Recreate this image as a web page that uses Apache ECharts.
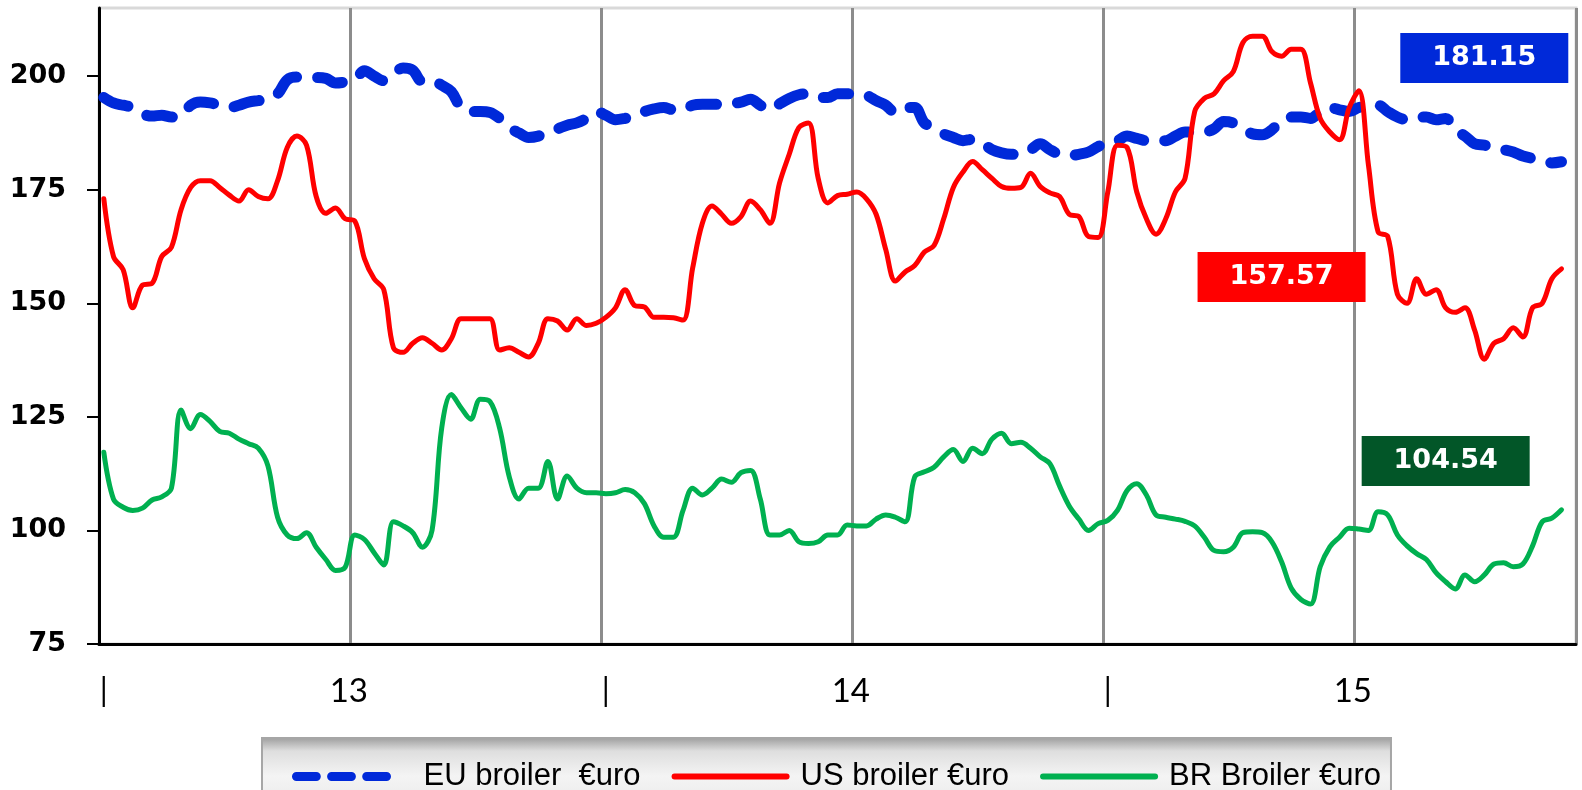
<!DOCTYPE html>
<html>
<head>
<meta charset="utf-8">
<script src="https://cdn.jsdelivr.net/npm/echarts@6/dist/echarts.min.js"></script>
<style>
  html, body { margin: 0; padding: 0; background: #fff; }
  #chart { width: 1582px; height: 790px; }
</style>
</head>
<body>
<div id="chart"></div>
<script>
// weekly broiler prices, €uro / 100 kg
const tickLabels = ['|', '13', '|', '14', '|', '15'];
const weeks = Array.from({ length: 153 }, (_, i) => 'w' + i); // last slot stays empty

const euBroiler = [
  195.3, 194.1, 193.6, 193.1, 191.7, 191.2, 191.4, 191, 191.2, 193.6,
  194.3, 194.1, 193.6, 193.1, 193.6, 194.3, 194.6, 194.9, 196.1, 199.2,
  199.8, 199.7, 199.7, 199.5, 198.5, 198.7, 199.2, 201.2, 200, 199,
  200.5, 201.8, 201.3, 198.8, 199, 198, 196.6, 193.1, 192.2, 192.2,
  192, 190.7, 188.7, 187.5, 186.5, 186.8, 187.7, 188.4, 189.2, 189.7,
  190.7, 192.2, 191.4, 190.4, 190.7, 191.2, 192.2, 192.8, 193.1, 192.6,
  192.6, 193.6, 193.8, 193.8, 193.8, 193.9, 194.3, 194.9, 193.6, 192.6,
  193.9, 195.1, 195.9, 196.1, 195.3, 195.3, 196.1, 196.1, 196.1, 195.8,
  194.6, 193.6, 192, 193.1, 193.1, 189.7, 188.7, 187.3, 186.5, 185.8,
  186.1, 185.3, 183.8, 183.1, 182.8, 182.8, 183.8, 185.1, 183.8, 182.8,
  182.5, 182.8, 183.3, 184.5, 185.5, 185.8, 186.8, 186.3, 185.8, 185.8,
  185.8, 186.8, 187.7, 187.7, 187.7, 188.4, 190, 189.7, 188.4, 187.3,
  187.1, 188.2, 190.4, 191, 191, 190.7, 192.2, 193.1, 192.6, 192.2,
  193.1, 193.3, 193.6, 192.2, 191, 190.4, 191, 191, 190.4, 190.7,
  188.2, 186.8, 185.1, 184.8, 184.3, 183.8, 183.3, 182.4, 181.9, 181.6,
  180.9, 181.15
];

const usBroiler = [
  173, 160.3, 157.4, 149, 154, 154.4, 160.3, 162.3, 170.6, 175.5,
  177, 177, 175.5, 173.8, 172.5, 175, 173.5, 173, 177, 184.3,
  186.8, 184.8, 173.5, 169.8, 171, 168.6, 168.1, 159.8, 155.4, 153,
  140.2, 139.2, 141.2, 142.4, 141.2, 139.7, 142.2, 146.6, 146.6, 146.6,
  146.6, 139.7, 140.2, 139.2, 138.2, 141.2, 146.6, 146.1, 144.1, 146.6,
  145.1, 145.6, 146.9, 149, 153, 149.5, 149.2, 146.9, 146.9, 146.8,
  146.3, 157.8, 167.6, 171.4, 169.6, 167.6, 169.1, 172.5, 170.6, 167.6,
  176.5, 182.8, 188.7, 189.7, 177.5, 172.1, 173.7, 174, 174.5, 173,
  169.6, 161.8, 154.9, 156.9, 158.3, 161.3, 162.7, 168.6, 175.5, 178.9,
  181.2, 179.4, 177.5, 175.7, 175.3, 175.5, 178.6, 175.7, 174.3, 173.5,
  169.6, 169.1, 164.7, 164.5, 174.5, 184.8, 184.3, 174.5, 168.6, 165.2,
  168.6, 174.5, 177.5, 192.2, 195.1, 196.1, 199, 201, 207.4, 208.8,
  208.8, 205.4, 204.4, 205.9, 205.9, 198.5, 190.7, 187.7, 186, 193,
  196.8, 180.4, 165.7, 164.7, 152, 150, 155.4, 152, 153, 149,
  148, 149, 144.1, 137.7, 141.2, 142.2, 144.6, 142.6, 149, 150,
  155.4, 157.57
];

const brBroiler = [
  117.2, 106.9, 105.1, 104.4, 104.9, 106.7, 107.4, 109.3, 126.5, 122.4,
  125.5, 124, 121.8, 121.4, 120.1, 119.1, 118.1, 114.2, 102.9, 99,
  98.2, 99.5, 96.3, 93.6, 91.2, 91.9, 99, 98, 95.1, 92.4,
  101.9, 101, 99.5, 96.3, 100, 122.5, 129.9, 127, 124.5, 128.9,
  128.4, 122.5, 111.8, 106.9, 109.3, 109.3, 115.2, 106.9, 112, 109.3,
  108.3, 108.3, 108.1, 108.3, 109, 108.3, 105.9, 101, 98.5, 98.5,
  104.4, 109.3, 107.8, 109.3, 111.3, 110.6, 112.7, 113.2, 106.9, 99,
  99, 100, 97.5, 97.1, 97.5, 99, 99, 101.2, 101, 101,
  102.5, 103.4, 102.9, 101.9, 111.8, 112.9, 113.9, 116.2, 117.8, 115.2,
  118.1, 116.9, 120.1, 121.4, 119.1, 119.4, 118.1, 116.2, 114.7, 109.8,
  105.4, 102.5, 100, 101.5, 102.2, 104.4, 108.8, 110.3, 107.8, 103.4,
  102.9, 102.5, 102, 101, 98.5, 95.6, 95.3, 96.3, 99.5, 99.7,
  99.5, 97.5, 93.1, 87.3, 84.8, 83.8, 92, 96.4, 98.5, 100.5,
  100.3, 100, 104.1, 103.4, 99, 96.6, 94.9, 93.6, 90.7, 88.7,
  87.1, 90.2, 88.7, 90.2, 92.6, 92.9, 92, 92.6, 96.6, 101.9,
  102.7, 104.54
];

const seriesNames = ['EU broiler  €uro', 'US broiler €uro', 'BR Broiler €uro'];
const seriesColors = ['#0029d9', '#ff0000', '#00b050'];
const boxColors = ['#0029d9', '#ff0000', '#025628'];

// legend icons: three pills for the dashed EU line, plain bars for the others
const pillIcon = 'path://M5,0H27A5,5 0 0 1 27,10H5A5,5 0 0 1 5,0Z'
    + 'M44,0H66A5,5 0 0 1 66,10H44A5,5 0 0 1 44,0Z'
    + 'M83,0H105A5,5 0 0 1 105,10H83A5,5 0 0 1 83,0Z';
const barIcon = 'path://M3,0H115A3,3 0 0 1 115,6H3A3,3 0 0 1 3,0Z';

let chartDom = document.getElementById('chart');
let myChart = echarts.init(chartDom);

// value box next to the end of each line
function lastBox(values, coord, color) {
    const last = values[values.length - 1];
    return {
        symbol: 'rect',
        symbolSize: [168, 50],
        silent: true,
        itemStyle: { color: color },
        label: {
            show: true,
            position: 'inside',
            color: '#fff',
            fontSize: 27,
            fontWeight: 'bold',
            fontFamily: 'DejaVu Sans',
            formatter: () => last.toFixed(2)
        },
        data: [{ coord: coord, value: last }]
    };
}

const option = {
    animation: false,
    grid: {
        left: 99,
        right: 6,
        top: 8,
        bottom: 146,
        show: true,
        borderColor: '#d9d9d9',
        borderWidth: 3
    },
    legend: {
        left: 262,
        top: 738,
        padding: [23, 10, 22, 30],
        itemWidth: 118,
        itemHeight: 9,
        itemGap: 31,
        backgroundColor: {
            type: 'linear', x: 0, y: 0, x2: 0, y2: 1,
            colorStops: [
                { offset: 0, color: '#9b9b9b' },
                { offset: 0.18, color: '#dedede' },
                { offset: 0.5, color: '#f4f4f4' },
                { offset: 1, color: '#e6e6e6' }
            ]
        },
        borderColor: '#a6a6a6',
        borderWidth: 2,
        textStyle: {
            fontFamily: 'Liberation Sans',
            fontSize: 31,
            color: '#000',
            padding: [0, 0, 0, 6]
        },
        data: [
            { name: seriesNames[0], icon: pillIcon, textStyle: { padding: [0, 0, 0, 18] } },
            { name: seriesNames[1], icon: barIcon },
            { name: seriesNames[2], icon: barIcon }
        ]
    },
    xAxis: {
        type: 'category',
        data: weeks,
        boundaryGap: true,
        axisLine: { lineStyle: { color: '#000', width: 3 } },
        axisTick: { interval: 25, length: 10, lineStyle: { color: '#000', width: 3 } },
        splitLine: { show: true, interval: 25, lineStyle: { color: '#8c8c8c', width: 3 } },
        axisLabel: {
            interval: 25,
            margin: 31,
            color: '#000',
            formatter: (val, idx) => {
                const t = tickLabels[Math.round(idx / 26)];
                return t === '|' ? '{b|' + t + '}' : '{n|' + t + '}';
            },
            rich: {
                b: { fontFamily: 'Lato', fontSize: 32, color: '#000' },
                n: { fontFamily: 'Lato', fontSize: 33, color: '#000', padding: [0, 12, 0, 0] }
            }
        }
    },
    yAxis: {
        type: 'value',
        min: 75,
        max: 215,
        interval: 25,
        axisLine: { show: true, lineStyle: { color: '#000', width: 3 } },
        axisTick: {
            show: true, length: 12,
            customValues: [75, 100, 125, 150, 175, 200],
            lineStyle: { color: '#000', width: 2 }
        },
        splitLine: { show: false },
        axisLabel: {
            customValues: [75, 100, 125, 150, 175, 200],
            margin: 33,
            fontFamily: 'DejaVu Sans',
            fontWeight: 'bold',
            fontSize: 27,
            color: '#000'
        }
    },
    series: [
        {
            name: seriesNames[0],
            type: 'line',
            data: euBroiler,
            symbol: 'none',
            smooth: 0.35,
            color: seriesColors[0],
            lineStyle: { width: 11, type: [26, 21], cap: 'round', join: 'round' },
            markPoint: lastBox(euBroiler, [143, 204], boxColors[0])
        },
        {
            name: seriesNames[1],
            type: 'line',
            data: usBroiler,
            symbol: 'none',
            smooth: 0.35,
            color: seriesColors[1],
            lineStyle: { width: 5, cap: 'round', join: 'round' },
            markPoint: lastBox(usBroiler, [122, 155.8], boxColors[1])
        },
        {
            name: seriesNames[2],
            type: 'line',
            data: brBroiler,
            symbol: 'none',
            smooth: 0.35,
            color: seriesColors[2],
            lineStyle: { width: 5, cap: 'round', join: 'round' },
            markPoint: lastBox(brBroiler, [139, 115.3], boxColors[2])
        }
    ]
};

myChart.setOption(option);
</script>
</body>
</html>
